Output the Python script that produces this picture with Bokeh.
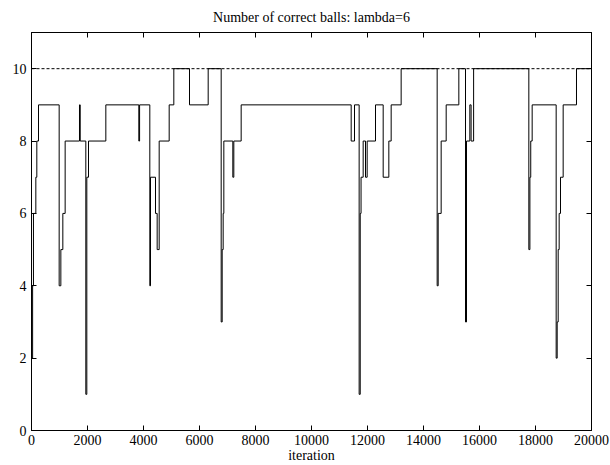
from bokeh.plotting import figure
from bokeh.models import Range1d, FixedTicker, LinearAxis, CustomJSTickFormatter
from bokeh.embed import file_html
from bokeh.resources import INLINE

# ---- data ----
iteration_steps = [0, 40, 70, 155, 190, 250, 988, 1048, 1119, 1202, 1714, 1740,
                   1940, 1976, 2036, 2655, 3833, 3860, 4226, 4250, 4429, 4488,
                   4560, 4917, 5083, 5643, 6310, 6774, 6810, 6845, 6869, 7190,
                   7226, 7488, 11417, 11536, 11702, 11740, 11770, 11845, 11929,
                   11988, 12286, 12560, 12762, 12845, 13202, 14488, 14524, 14631,
                   14810, 15262, 15500, 15536, 15655, 15700, 15790, 17762, 17800,
                   17830, 17881, 18738, 18774, 18810, 18845, 18893, 18988, 19464,
                   20000]
correct_balls = [2, 4, 6, 7, 8, 9, 4, 5, 6, 8, 9, 8,
                 1, 7, 8, 9, 8, 9, 4, 7, 6, 5,
                 8, 9, 10, 9, 10, 3, 5, 6, 8, 7,
                 8, 9, 8, 9, 1, 6, 7, 8, 7,
                 8, 9, 7, 8, 9, 10, 4, 6, 8,
                 9, 10, 3, 8, 9, 8, 10, 5, 7,
                 8, 9, 2, 3, 5, 6, 7, 9, 10,
                 10]
target_x = [0, 20000]
target_y = [10, 10]
x_ticks = [0, 2000, 4000, 6000, 8000, 10000, 12000, 14000, 16000, 18000, 20000]
y_ticks = [0, 2, 4, 6, 8, 10]

FONT = "Liberation Serif"
FS = "14px"

p = figure(width=610, height=465, output_backend="svg", toolbar_location=None,
           x_range=Range1d(0, 20000), y_range=Range1d(0, 11),
           min_border_left=31, min_border_right=19, min_border_top=32,
           min_border_bottom=34, title="Number of correct balls: lambda=6")
p.xgrid.visible = False
p.ygrid.visible = False
p.outline_line_color = "black"
p.outline_line_width = 1
p.background_fill_color = "white"
p.border_fill_color = "white"

p.title.align = "center"
p.title.text_font = FONT
p.title.text_font_size = FS
p.title.text_font_style = "normal"
p.title.text_color = "black"
p.title.standoff = 15

p.step(iteration_steps, correct_balls, mode="after", line_color="black", line_width=1)
p.line(target_x, target_y, line_dash="3 2", line_color="black", line_width=1)

def style_axis(ax, ticks):
    ax.ticker = FixedTicker(ticks=ticks)
    ax.major_tick_in = 5
    ax.major_tick_out = 0
    ax.minor_tick_in = 0
    ax.minor_tick_out = 0
    ax.major_tick_line_color = "black"
    ax.axis_line_color = "black"
    ax.major_label_text_font = FONT
    ax.major_label_text_font_size = FS
    ax.major_label_text_color = "black"

style_axis(p.xaxis[0], x_ticks)
style_axis(p.yaxis[0], y_ticks)
p.xaxis[0].major_label_standoff = 4
p.yaxis[0].major_label_standoff = 5
p.xaxis[0].axis_label = "iteration"
p.xaxis[0].axis_label_text_font = FONT
p.xaxis[0].axis_label_text_font_size = FS
p.xaxis[0].axis_label_text_font_style = "normal"
p.xaxis[0].axis_label_text_color = "black"
p.xaxis[0].axis_label_standoff = 0

blank = CustomJSTickFormatter(code="return ''")
top = LinearAxis()
style_axis(top, x_ticks)
top.formatter = blank
top.major_label_standoff = 0
p.add_layout(top, "above")
right = LinearAxis()
style_axis(right, y_ticks)
right.formatter = blank
right.major_label_standoff = 0
p.add_layout(right, "right")

open("out.html", "w").write(file_html(p, INLINE))
